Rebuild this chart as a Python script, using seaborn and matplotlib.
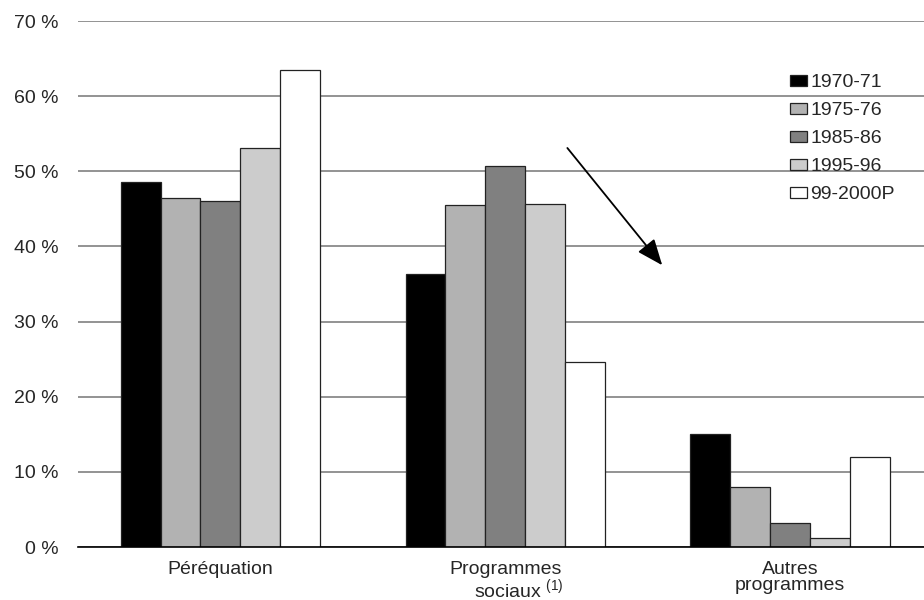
import pandas as pd
import matplotlib.pyplot as plt
import seaborn as sns

categories = ["Péréquation", "Programmes\n     sociaux $\\mathregular{^{(1)}}$", "Autres\nprogrammes"]
periods = ["1970-71", "1975-76", "1985-86", "1995-96", "99-2000P"]
v_1970 = [48.6, 36.3, 15.1]
v_1975 = [46.5, 45.5, 8.0]
v_1985 = [46.1, 50.7, 3.15]
v_1995 = [53.1, 45.6, 1.15]
v_1999 = [63.5, 24.6, 12.0]
colors = ["#000000", "#b2b2b2", "#808080", "#cccccc", "#ffffff"]

rows = []
for period, vals in zip(periods, [v_1970, v_1975, v_1985, v_1995, v_1999]):
    for cat, v in zip(categories, vals):
        rows.append({"cat": cat, "period": period, "value": v})
df = pd.DataFrame(rows)

sns.set_style("white")
plt.rcParams["font.family"] = ["Liberation Sans", "DejaVu Sans"]
plt.rcParams["mathtext.fontset"] = "custom"
plt.rcParams["mathtext.rm"] = "Liberation Sans"

fig = plt.figure(figsize=(9.24, 6), dpi=100)
ax = fig.add_axes([0.0844, 0.0883, 0.9156, 0.8767])

sns.barplot(data=df, x="cat", y="value", hue="period", order=categories,
            hue_order=periods, palette=colors, width=0.7, gap=0,
            edgecolor="#222222", linewidth=0.9, saturation=1, ax=ax, zorder=3)

ax.set_ylim(0, 70)
ax.set_xlim(-0.5, 2.47)
ax.set_yticks(range(0, 71, 10))
ax.set_yticklabels([f"{t} %" for t in range(0, 71, 10)])
ax.yaxis.grid(True, color="#808080", linewidth=1.2, zorder=0)
ax.set_axisbelow(True)
for s in ["left", "right", "top"]:
    ax.spines[s].set_visible(False)
ax.spines["bottom"].set_color("black")
ax.spines["bottom"].set_linewidth(1.2)
ax.spines["bottom"].set_zorder(4)
ax.tick_params(axis="y", length=0, pad=14, labelsize=14)
ax.tick_params(axis="x", length=0, pad=10, labelsize=14)
for lab in ax.get_xticklabels():
    lab.set_linespacing(0.95)
ax.set_xlabel("")
ax.set_ylabel("")

ax.legend(loc="upper left", bbox_to_anchor=(0.842, 0.899), frameon=False,
          fontsize=14, handlelength=0.88, handleheight=0.52, handletextpad=0.15,
          labelspacing=0.57, borderpad=0, borderaxespad=0)

ax.annotate("", xy=(1.551, 37.5), xytext=(1.218, 53.1),
            arrowprops=dict(arrowstyle="-|>,head_length=1.6,head_width=0.65",
                            color="black", lw=1.3, shrinkA=0, shrinkB=0))

fig.savefig("out.png", dpi=100)
